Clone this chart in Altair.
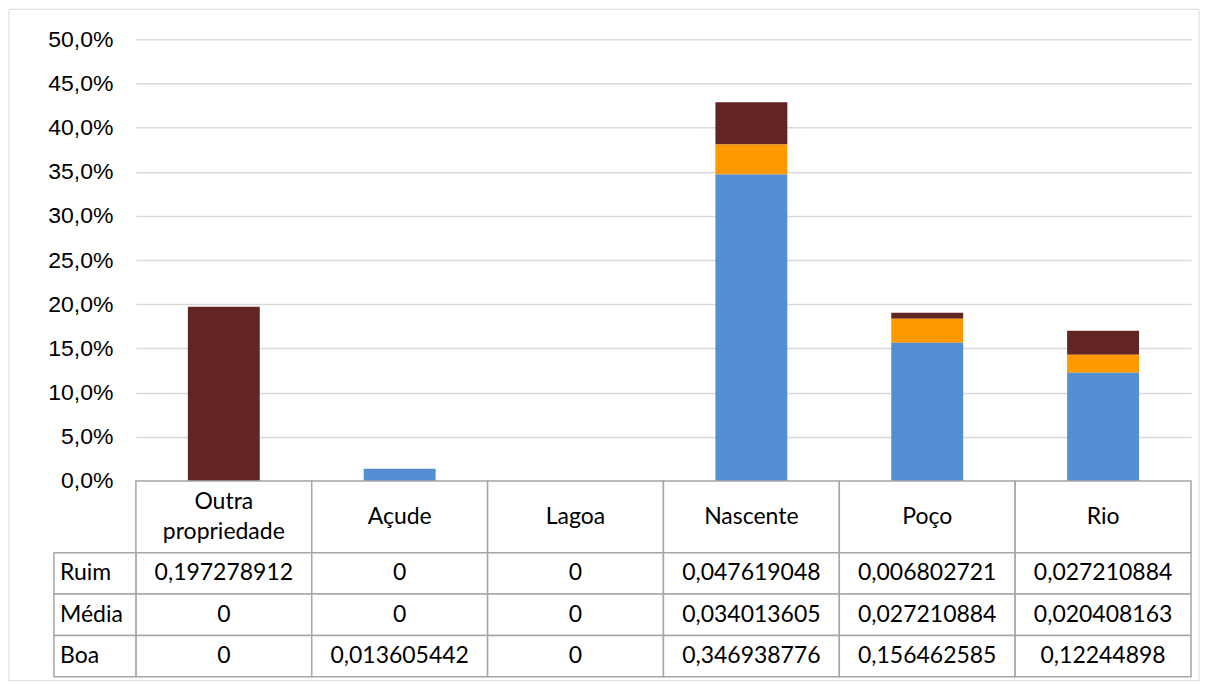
import altair as alt
import pandas as pd

# ---- data ----
categories = ["Outra propriedade", "Açude", "Lagoa", "Nascente", "Poço", "Rio"]
header_text = ["Outra\npropriedade", "Açude", "Lagoa", "Nascente", "Poço", "Rio"]
series = ["Ruim", "Média", "Boa"]
ruim = [0.197278912, 0, 0, 0.047619048, 0.006802721, 0.027210884]
media = [0, 0, 0, 0.034013605, 0.027210884, 0.020408163]
boa = [0, 0.013605442, 0, 0.346938776, 0.156462585, 0.12244898]
stack_order = [2, 1, 0]
y_ticks = [0.0, 0.05, 0.10, 0.15, 0.20, 0.25, 0.30, 0.35, 0.40, 0.45, 0.50]

color_domain = ["Boa", "Média", "Ruim"]
color_range = ["#558ED5", "#FF9900", "#632523"]

rows = []
for s, vals, o in zip(series, [ruim, media, boa], stack_order):
    for c, v in zip(categories, vals):
        rows.append({"categoria": c, "serie": s, "valor": v, "ordem": o})
df = pd.DataFrame(rows)
head_df = pd.DataFrame({"categoria": categories, "texto": header_text})
label_df = pd.DataFrame({"serie": series})

# ---- style ----
W, H = 1056, 442
HH, HB = 72, 124
FONT_AX = "Liberation Sans"
FONT_TB = "Lato"
FS_AX = 23
FS_TB = 23
GRID = "#d9d9d9"
LINE = "#a6a6a6"
TXT = "#000000"

# ---- bar panel ----
x_bar = alt.X("categoria:N", sort=categories,
              scale=alt.Scale(paddingInner=0.591, paddingOuter=0.2955), axis=None)
bars = alt.Chart(df).mark_bar().encode(
    x=x_bar,
    y=alt.Y("valor:Q", stack="zero",
            scale=alt.Scale(domain=[0, 0.5], nice=False),
            axis=alt.Axis(values=y_ticks,
                          labelExpr="replace(format(datum.value, '.1%'), '.', ',')",
                          title=None, domain=False, ticks=False, labelPadding=23,
                          labelFont=FONT_AX, labelFontSize=FS_AX, labelColor=TXT,
                          gridColor=GRID, gridWidth=1.5)),
    color=alt.Color("serie:N", scale=alt.Scale(domain=color_domain, range=color_range), legend=None),
    order=alt.Order("ordem:Q", sort="ascending"),
)
frame = alt.Chart(pd.DataFrame({"k": [0]})).mark_rect(
    fill="white", fillOpacity=0, stroke=GRID, strokeWidth=1
).encode(x=alt.value(-127), x2=alt.value(1064), y=alt.value(-30), y2=alt.value(642))
top = alt.layer(bars, frame).properties(width=W, height=H)

# ---- table header ----
x_tab = alt.X("categoria:N", sort=categories,
              scale=alt.Scale(paddingInner=0, paddingOuter=0), axis=None)
head_cells = alt.Chart(head_df).mark_rect(fill="white", stroke=LINE, strokeWidth=1.5).encode(
    x=x_tab, y=alt.value(0), y2=alt.value(HH))
head_txt1 = alt.Chart(head_df).transform_filter(
    "indexof(datum.texto, '\\n') < 0"
).mark_text(
    font=FONT_TB, fontSize=FS_TB, color=TXT, baseline="middle"
).encode(x=x_tab, y=alt.value(HH / 2), text="texto:N")
head_txt2 = alt.Chart(head_df).transform_filter(
    "indexof(datum.texto, '\\n') >= 0"
).mark_text(
    font=FONT_TB, fontSize=FS_TB, color=TXT, lineBreak="\n", lineHeight=30, baseline="middle"
).encode(x=x_tab, y=alt.value(HH / 2 - 15), text="texto:N")
header = alt.layer(head_cells, head_txt1, head_txt2).properties(width=W, height=HH)

# ---- table body ----
y_tab = alt.Y("serie:N", sort=series, scale=alt.Scale(paddingInner=0, paddingOuter=0), axis=None)
body_cells = alt.Chart(df).mark_rect(fill="white", stroke=LINE, strokeWidth=1.5).encode(
    x=x_tab, y=y_tab)
body_txt = alt.Chart(df).transform_calculate(
    rotulo="replace(toString(datum.valor), '.', ',')"
).mark_text(font=FONT_TB, fontSize=FS_TB, color=TXT, baseline="middle").encode(
    x=x_tab, y=y_tab, text="rotulo:N")
lab_cells = alt.Chart(label_df).mark_rect(fill="white", stroke=LINE, strokeWidth=1.5).encode(
    x=alt.value(-82), x2=alt.value(0), y=y_tab)
lab_txt = alt.Chart(label_df).mark_text(
    font=FONT_TB, fontSize=FS_TB, color=TXT, align="left", baseline="middle"
).encode(x=alt.value(-76), y=y_tab, text="serie:N")
body = alt.layer(body_cells, body_txt, lab_cells, lab_txt).properties(width=W, height=HB)

chart = alt.vconcat(top, header, body, spacing=0, bounds="flush").resolve_scale(
    x="independent", y="independent"
).configure_view(stroke=None).properties(padding=0, background="white")

chart.save("out.html", embed_options={"renderer": "svg", "actions": False})
